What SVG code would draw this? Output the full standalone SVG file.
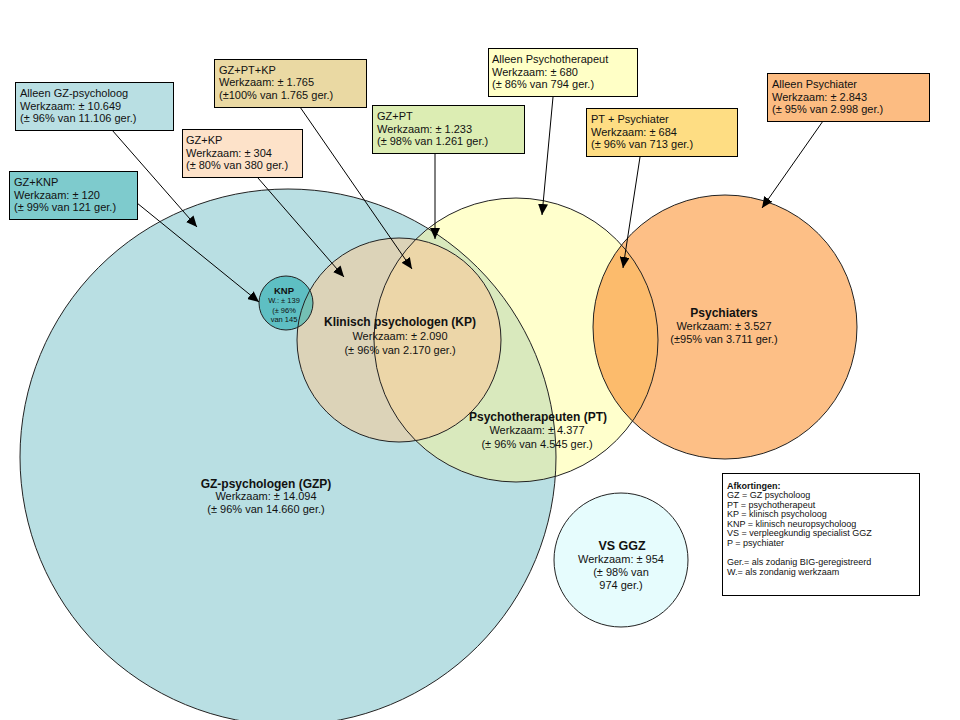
<svg xmlns="http://www.w3.org/2000/svg" width="960" height="720" viewBox="0 0 960 720">
<style>
text{font-family:"Liberation Sans",Arial,sans-serif;fill:#111;}
.bt{font-size:11px;}
.ct{font-size:11px;text-anchor:middle;}
.ch{font-size:12px;font-weight:bold;text-anchor:middle;}
.lg{font-size:9px;}
.box{stroke:#000;stroke-width:1;}
.ring{fill:none;stroke:#222;stroke-width:1;}
.conn{stroke:#000;stroke-width:1;fill:none;marker-end:url(#arr);}
</style>
<defs>
<marker id="arr" markerUnits="userSpaceOnUse" markerWidth="12" markerHeight="10" refX="11" refY="5" orient="auto">
<path d="M0,0 L11,5 L0,10 z" fill="#000"/>
</marker>
<clipPath id="cGZP"><circle cx="288" cy="457" r="268"/></clipPath>
<clipPath id="cPT"><circle cx="516" cy="340" r="142"/></clipPath>
<clipPath id="cKP"><circle cx="399" cy="340" r="102"/></clipPath>
</defs>
<rect width="960" height="720" fill="#fff"/>

<g id="region-fills">
<circle cx="288" cy="457" r="268" fill="#b9dfe3"/>
<circle cx="516" cy="340" r="142" fill="#ffffcc"/>
<circle cx="516" cy="340" r="142" fill="#d9e9bd" clip-path="url(#cGZP)"/>
<circle cx="399" cy="340" r="102" fill="#dcd3b8"/>
<circle cx="399" cy="340" r="102" fill="#ecd6a8" clip-path="url(#cPT)"/>
<circle cx="725" cy="327" r="132" fill="#fdbf86"/>
<circle cx="725" cy="327" r="132" fill="#fcbb6c" clip-path="url(#cPT)"/>
<circle cx="286" cy="303" r="27" fill="#5ebfc3"/>
<circle cx="286" cy="303" r="27" fill="#74c0b4" clip-path="url(#cKP)"/>
<circle cx="621" cy="560" r="67" fill="#e6fcfd"/>
</g>

<g id="node-gzp">
<circle class="ring" cx="288" cy="457" r="268"/>
<text class="ch" x="266" y="488">GZ-psychologen  (GZP)</text>
<text class="ct" x="266" y="500">Werkzaam: ± 14.094</text>
<text class="ct" x="266" y="513">(± 96% van 14.660 ger.)</text>
</g>

<g id="node-pt">
<circle class="ring" cx="516" cy="340" r="142"/>
<text class="ch" x="538" y="421">Psychotherapeuten (PT)</text>
<text class="ct" x="537" y="434">Werkzaam: ± 4.377</text>
<text class="ct" x="537" y="448">(± 96% van 4.545 ger.)</text>
</g>

<g id="node-kp">
<circle class="ring" cx="399" cy="340" r="102"/>
<text class="ch" x="400" y="326">Klinisch psychologen (KP)</text>
<text class="ct" x="400" y="340">Werkzaam: ± 2.090</text>
<text class="ct" x="400" y="354">(± 96% van 2.170 ger.)</text>
</g>

<g id="node-psychiaters">
<circle class="ring" cx="725" cy="327" r="132"/>
<text class="ch" x="724" y="317">Psychiaters</text>
<text class="ct" x="724" y="330">Werkzaam: ± 3.527</text>
<text class="ct" x="724" y="343">(±95% van 3.711 ger.)</text>
</g>

<g id="node-knp">
<circle class="ring" cx="286" cy="303" r="27"/>
<text x="284" y="294" style="font-size:9.5px;font-weight:bold;text-anchor:middle">KNP</text>
<text x="284" y="303" style="font-size:7.5px;text-anchor:middle">W.: ± 139</text>
<text x="284" y="313" style="font-size:7.5px;text-anchor:middle">(± 96%</text>
<text x="284" y="322" style="font-size:7.5px;text-anchor:middle">van  145</text>
</g>

<g id="node-vsggz">
<circle class="ring" cx="621" cy="560" r="67"/>
<text class="ch" x="622" y="550" style="font-size:12.5px">VS GGZ</text>
<text class="ct" x="621" y="563">Werkzaam: ± 954</text>
<text class="ct" x="621" y="576">(± 98% van</text>
<text class="ct" x="621" y="589">974 ger.)</text>
</g>

<g id="box-alleen-gz">
<rect class="box" x="15.5" y="82.5" width="158" height="48" fill="#b9dfe3"/>
<text class="bt" x="20" y="97">Alleen GZ-psycholoog</text>
<text class="bt" x="20" y="109.5">Werkzaam: ± 10.649</text>
<text class="bt" x="20" y="122">(± 96% van 11.106 ger.)</text>
</g>

<g id="box-gz-knp">
<rect class="box" x="9.5" y="171.5" width="128" height="48" fill="#7ecbcd"/>
<text class="bt" x="14" y="186">GZ+KNP</text>
<text class="bt" x="14" y="198.5">Werkzaam: ± 120</text>
<text class="bt" x="14" y="211">(± 99% van 121 ger.)</text>
</g>

<g id="box-gz-pt-kp">
<rect class="box" x="214.5" y="59.5" width="152" height="48" fill="#ead9a3"/>
<text class="bt" x="219" y="73.5">GZ+PT+KP</text>
<text class="bt" x="219" y="86">Werkzaam: ± 1.765</text>
<text class="bt" x="219" y="98.5">(±100% van 1.765 ger.)</text>
</g>

<g id="box-gz-kp">
<rect class="box" x="182.5" y="129.5" width="120" height="48" fill="#fde2c9"/>
<text class="bt" x="186" y="144">GZ+KP</text>
<text class="bt" x="186" y="156.5">Werkzaam: ± 304</text>
<text class="bt" x="186" y="169">(± 80% van 380 ger.)</text>
</g>

<g id="box-gz-pt">
<rect class="box" x="372.5" y="105.5" width="152" height="48" fill="#dcedb3"/>
<text class="bt" x="377" y="120">GZ+PT</text>
<text class="bt" x="377" y="132.5">Werkzaam: ± 1.233</text>
<text class="bt" x="377" y="145">(± 98% van 1.261 ger.)</text>
</g>

<g id="box-alleen-pt">
<rect class="box" x="488.5" y="48.5" width="149" height="48" fill="#ffffc6"/>
<text class="bt" x="492" y="63">Alleen Psychotherapeut</text>
<text class="bt" x="492" y="75.5">Werkzaam: ± 680</text>
<text class="bt" x="492" y="88">(± 86% van 794 ger.)</text>
</g>

<g id="box-pt-psychiater">
<rect class="box" x="586.5" y="108.5" width="151" height="48" fill="#fedd83"/>
<text class="bt" x="591" y="123">PT  + Psychiater</text>
<text class="bt" x="591" y="135.5">Werkzaam: ± 684</text>
<text class="bt" x="591" y="148">(± 96% van 713 ger.)</text>
</g>

<g id="box-alleen-psychiater">
<rect class="box" x="767.5" y="73.5" width="162" height="48" fill="#fcbc82"/>
<text class="bt" x="772" y="88">Alleen Psychiater</text>
<text class="bt" x="772" y="100.5">Werkzaam: ± 2.843</text>
<text class="bt" x="772" y="113">(± 95% van 2.998 ger.)</text>
</g>

<g id="legend">
<rect class="box" x="722.5" y="473.5" width="197" height="122" fill="#fff"/>
<text class="lg" x="727" y="488.5" style="font-weight:bold">Afkortingen:</text>
<text class="lg" x="727" y="498">GZ = GZ psycholoog</text>
<text class="lg" x="727" y="507.5">PT = psychotherapeut</text>
<text class="lg" x="727" y="517">KP = klinisch psycholoog</text>
<text class="lg" x="727" y="526.5">KNP = klinisch neuropsycholoog</text>
<text class="lg" x="727" y="536">VS = verpleegkundig specialist GGZ</text>
<text class="lg" x="727" y="545.5">P = psychiater</text>
<text class="lg" x="727" y="565">Ger.= als zodanig  BIG-geregistreerd</text>
<text class="lg" x="727" y="574.5">W.= als zondanig werkzaam</text>
</g>

<g id="connectors">
<line class="conn" x1="112" y1="130" x2="197" y2="227"/>
<line class="conn" x1="137" y1="203" x2="259" y2="302"/>
<line class="conn" x1="258" y1="178" x2="344" y2="277"/>
<line class="conn" x1="300" y1="107" x2="412" y2="269"/>
<line class="conn" x1="435" y1="154" x2="435" y2="239"/>
<line class="conn" x1="553" y1="97" x2="542" y2="215"/>
<line class="conn" x1="640" y1="157" x2="623" y2="268"/>
<line class="conn" x1="823" y1="121" x2="762" y2="208"/>
</g>
</svg>
